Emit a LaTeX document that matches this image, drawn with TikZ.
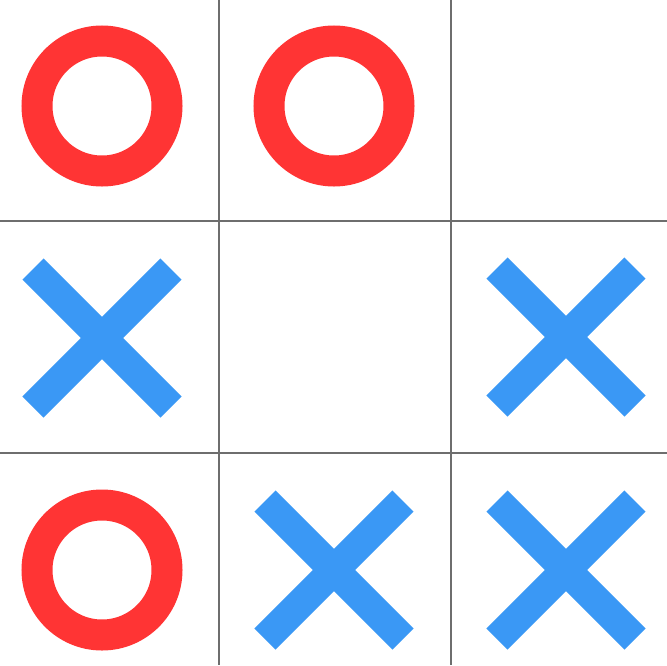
\documentclass[tikz,border=0pt]{standalone}
\definecolor{ored}{RGB}{255,52,52}
\definecolor{xblue}{RGB}{58,152,245}
\definecolor{gridgray}{RGB}{110,110,110}
\tikzset{
  gridline/.style={draw=gridgray,line width=2.4pt},
  omark/.style={draw=ored,line width=31pt},
  xmark/.style={draw=xblue,line width=30pt,line cap=butt},
}
\newcommand{\omk}[2]{\draw[omark] (#1,#2) circle[radius=65];}
\newcommand{\xmk}[2]{\draw[xmark] (#1-69,#2-69) -- (#1+69,#2+69); \draw[xmark] (#1+69,#2-69) -- (#1-69,#2+69);}
\begin{document}
\begin{tikzpicture}[x=1pt,y=-1pt]
\useasboundingbox[fill=white] (0,0) rectangle (667,665);
% grid
\draw[gridline] (219,0) -- (219,665);
\draw[gridline] (451,0) -- (451,665);
\draw[gridline] (0,221) -- (667,221);
\draw[gridline] (0,453) -- (667,453);
% marks
\omk{102}{106}
\omk{334}{106}
\xmk{102}{338}
\xmk{566}{337}
\omk{102}{570}
\xmk{334}{570}
\xmk{566}{570}
\end{tikzpicture}
\end{document}
